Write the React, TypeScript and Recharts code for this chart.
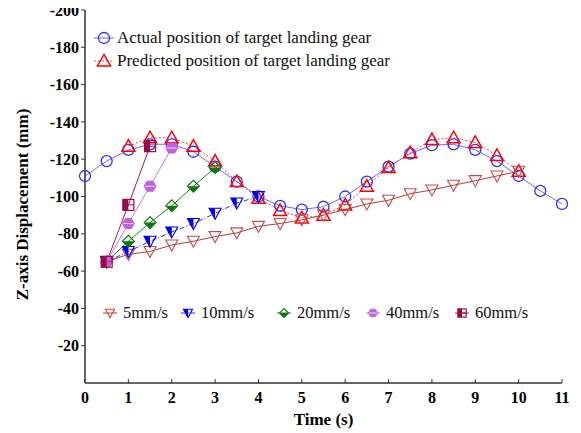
import React from 'react';
import { LineChart, Line, XAxis, YAxis } from 'recharts';

// ── data (Z displacement in mm, time in s) ──
const actualTime = [0, 0.5, 1, 1.5, 2, 2.5, 3, 3.5, 4, 4.5, 5, 5.5, 6, 6.5, 7, 7.5, 8, 8.5, 9, 9.5, 10, 10.5, 11];
const actualZ = [-111, -119, -125, -128, -128, -124, -116, -108, -100, -95, -93, -94.5, -100, -108, -116, -123, -127.5, -128, -125, -119, -111, -103, -96];

const predictedTime = [1, 1.5, 2, 2.5, 3, 3.5, 4, 4.5, 5, 5.5, 6, 6.5, 7, 7.5, 8, 8.5, 9, 9.5, 10];
const predictedZ = [-127, -131.5, -131.5, -127, -119, -108, -99, -92.5, -88.5, -90, -95.5, -105.5, -115.5, -123.5, -130.5, -131.5, -129, -122, -113.5];

const speed5Time = [0.5, 1, 1.5, 2, 2.5, 3, 3.5, 4, 4.5, 5, 5.5, 6, 6.5, 7, 7.5, 8, 8.5, 9, 9.5, 10];
const speed5Z = [-65, -69, -70.5, -74, -76, -78.5, -80.5, -84, -85.5, -87.5, -90, -93, -96, -98, -101.5, -103.5, -106, -108.5, -111, -113.5];

const speed10Time = [0.5, 1, 1.5, 2, 2.5, 3, 3.5, 4];
const speed10Z = [-65, -70.5, -76, -81, -85.5, -91, -96.5, -100];

const speed20Time = [0.5, 1, 1.5, 2, 2.5, 3];
const speed20Z = [-65, -76, -86, -95, -105.5, -115.5];

const speed40Time = [0.5, 1, 1.5, 2];
const speed40Z = [-65, -85.5, -105.5, -126];

const speed60Time = [0.5, 1, 1.5];
const speed60Z = [-65, -95.5, -127];

const xTicks = [0, 1, 2, 3, 4, 5, 6, 7, 8, 9, 10, 11];
const yTicks = [-200, -180, -160, -140, -120, -100, -80, -60, -40, -20];

const toRows = (ts: number[], zs: number[]) => ts.map((t, i) => ({ t, z: zs[i] }));

const FONT = '"Liberation Serif", "Times New Roman", serif';

type Kind = 'circle' | 'triUp' | 'triDown' | 'triDownHalf' | 'diamondHalf' | 'hexagon' | 'squareHalf';

const Marker = ({ kind, cx, cy, color, s = 1 }: { kind: Kind; cx: number; cy: number; color: string; s?: number }) => {
  const p = (pts: number[][]) => pts.map(([x, y]) => `${cx + x * s},${cy + y * s}`).join(' ');
  switch (kind) {
    case 'circle':
      return <circle cx={cx} cy={cy} r={5.5 * s} fill="none" stroke={color} strokeWidth={1.3} />;
    case 'triUp':
      return <polygon points={p([[0, -6.5], [-6.5, 5], [6.5, 5]])} fill="none" stroke={color} strokeWidth={1.5} />;
    case 'triDown':
      return <polygon points={p([[-6, -5], [6, -5], [0, 6]])} fill="none" stroke={color} strokeWidth={1.1} />;
    case 'triDownHalf':
      return (
        <g>
          <polygon points={p([[-6, -5], [0, -5], [0, 6]])} fill={color} />
          <polygon points={p([[-6, -5], [6, -5], [0, 6]])} fill="none" stroke={color} strokeWidth={1.1} />
        </g>
      );
    case 'diamondHalf':
      return (
        <g>
          <polygon points={p([[-6, 0], [6, 0], [0, 6]])} fill={color} />
          <polygon points={p([[0, -6], [6, 0], [0, 6], [-6, 0]])} fill="none" stroke={color} strokeWidth={1.1} />
        </g>
      );
    case 'hexagon':
      return (
        <g>
          <polygon points={p([[-3, -5], [3, -5], [6, 0], [3, 5], [-3, 5], [-6, 0]])} fill={color} stroke={color} strokeWidth={1} />
          <line x1={cx - 5 * s} y1={cy} x2={cx + 5 * s} y2={cy} stroke="#f3d9fb" strokeWidth={1} />
        </g>
      );
    case 'squareHalf':
      return (
        <g>
          <rect x={cx - 5.5 * s} y={cy - 5.5 * s} width={5.5 * s} height={11 * s} fill={color} />
          <rect x={cx - 5.5 * s} y={cy - 5.5 * s} width={11 * s} height={11 * s} fill="none" stroke={color} strokeWidth={1.2} />
          <line x1={cx} y1={cy} x2={cx + 5.5 * s} y2={cy} stroke={color} strokeWidth={1} />
        </g>
      );
  }
  return null;
};

const SERIES = [
  { name: 'Actual position of target landing gear', rows: toRows(actualTime, actualZ), line: '#6a6aff', mark: '#2f2fff', kind: 'circle' as Kind, dash: undefined },
  { name: 'Predicted position of target landing gear', rows: toRows(predictedTime, predictedZ), line: '#ff4040', mark: '#ff0000', kind: 'triUp' as Kind, dash: '2 2' },
  { name: '5mm/s', rows: toRows(speed5Time, speed5Z), line: '#b03c3c', mark: '#d04848', kind: 'triDown' as Kind, dash: undefined },
  { name: '10mm/s', rows: toRows(speed10Time, speed10Z), line: '#2a2aff', mark: '#0000f0', kind: 'triDownHalf' as Kind, dash: '5 2 1 2' },
  { name: '20mm/s', rows: toRows(speed20Time, speed20Z), line: '#1f8a1f', mark: '#0a7a0a', kind: 'diamondHalf' as Kind, dash: undefined },
  { name: '40mm/s', rows: toRows(speed40Time, speed40Z), line: '#c878e8', mark: '#c060e0', kind: 'hexagon' as Kind, dash: undefined },
  { name: '60mm/s', rows: toRows(speed60Time, speed60Z), line: '#a01858', mark: '#9a0a48', kind: 'squareHalf' as Kind, dash: undefined },
];

const XTick = ({ x, y, payload }: any) => (
  <g>
    <line x1={x} y1={y} x2={x} y2={y - 4} stroke="#333" strokeWidth={1} />
    <text x={x} y={y + 20} textAnchor="middle" fontFamily={FONT} fontSize={16} fontWeight="bold" fill="#000">
      {payload.value}
    </text>
  </g>
);

// legend positions (relative to the chart box, which starts at the page top)
const topLegend = [
  { idx: 0, x: 96, y: 38 },
  { idx: 1, x: 96, y: 61 },
];
const bottomLegend = [
  { idx: 2, x: 102, y: 313 },
  { idx: 3, x: 180, y: 313 },
  { idx: 4, x: 276, y: 313 },
  { idx: 5, x: 365, y: 313 },
  { idx: 6, x: 454, y: 313 },
];

const LegendItem = ({ idx, x, y, big }: { idx: number; x: number; y: number; big: boolean }) => {
  const s = SERIES[idx];
  const half = big ? 9 : 6;
  return (
    <div style={{ position: 'absolute', left: x - half - 1, top: y - 12, height: 24, display: 'flex', alignItems: 'center', whiteSpace: 'nowrap' }}>
      <svg width={half * 2 + 2} height={24} style={{ display: 'block' }}>
        <line x1={0} y1={12} x2={half * 2 + 2} y2={12} stroke={s.line} strokeWidth={1} strokeDasharray={s.dash} />
        <Marker kind={s.kind} cx={half + 1} cy={12} color={s.mark} s={big ? 1 : 0.75} />
      </svg>
      <span style={{ marginLeft: big ? 3 : 6, fontFamily: FONT, fontSize: big ? 17 : 16.5, color: '#111' }}>{s.name}</span>
    </div>
  );
};

const App: React.FC = () => {
  return (
    <div style={{ position: 'relative', width: 573, height: 433, marginTop: -8 }}>
      <LineChart width={573} height={433} margin={{ top: 10, right: 19, bottom: 0, left: 0 }}>
        <XAxis
          dataKey="t"
          type="number"
          domain={[0, 11]}
          ticks={xTicks}
          interval={0}
          allowDuplicatedCategory={false}
          height={50}
          tickLine={false}
          tickSize={0}
          tickMargin={0}
          tick={<XTick />}
          axisLine={{ stroke: '#333', strokeWidth: 1.5 }}
          label={{ value: 'Time (s)', position: 'insideBottom', offset: 8, fontFamily: FONT, fontSize: 17, fontWeight: 'bold', fill: '#000' }}
        />
        <XAxis xAxisId="top" orientation="top" type="number" domain={[0, 11]} height={0} tick={false} tickLine={false} axisLine={{ stroke: '#333', strokeWidth: 1.5 }} />
        <YAxis
          type="number"
          domain={[-200, 0]}
          reversed
          ticks={yTicks}
          interval={0}
          width={77}
          tickSize={4}
          tickMargin={2}
          tickLine={{ stroke: '#333' }}
          axisLine={{ stroke: '#333', strokeWidth: 1.5 }}
          tick={{ fill: '#000', fontFamily: FONT, fontSize: 16, fontWeight: 'bold' }}
          label={{ value: 'Z-axis Displacement (mm)', angle: -90, position: 'insideLeft', offset: 14, dy: 8, fontFamily: FONT, fontSize: 17, fontWeight: 'bold', fill: '#000', style: { textAnchor: 'middle' } }}
        />
        <YAxis yAxisId="right" orientation="right" type="number" domain={[-200, 0]} width={0} tick={false} tickLine={false} axisLine={{ stroke: '#333', strokeWidth: 1.5 }} />
        {SERIES.map((s) => (
          <Line
            key={s.name}
            data={s.rows}
            dataKey="z"
            name={s.name}
            type="linear"
            stroke={s.line}
            strokeWidth={1}
            strokeDasharray={s.dash}
            isAnimationActive={false}
            dot={(props: any) => <Marker key={`${s.name}-${props.index}`} kind={s.kind} cx={props.cx} cy={props.cy} color={s.mark} />}
            activeDot={false}
          />
        ))}
      </LineChart>
      {topLegend.map((l) => (
        <LegendItem key={l.idx} idx={l.idx} x={l.x} y={l.y} big />
      ))}
      {bottomLegend.map((l) => (
        <LegendItem key={l.idx} idx={l.idx} x={l.x} y={l.y} big={false} />
      ))}
    </div>
  );
};

export default App;
